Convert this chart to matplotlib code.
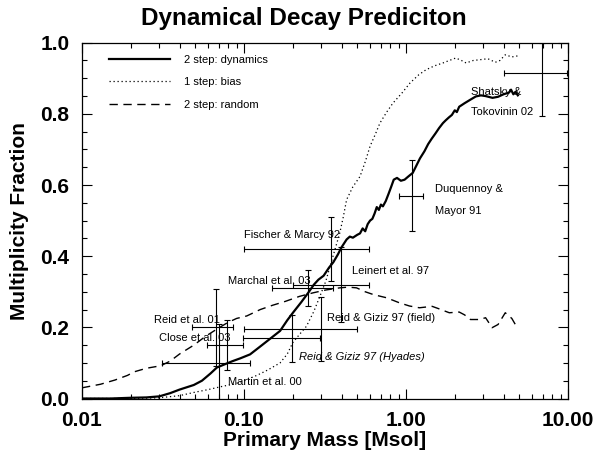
import matplotlib
matplotlib.use("Agg")
import matplotlib.pyplot as plt
from matplotlib.ticker import FixedLocator, FixedFormatter, LogLocator, MultipleLocator, NullFormatter

plt.rcParams['font.family'] = ['Liberation Sans', 'DejaVu Sans']
plt.rcParams['font.weight'] = 'bold'

# ---- data ----
dyn_x = [0.010, 0.015, 0.02, 0.025, 0.030, 0.035, 0.040, 0.049, 0.055, 0.062, 0.068, 0.075, 0.085,
         0.095, 0.109, 0.125, 0.145, 0.167, 0.185, 0.202, 0.225, 0.249, 0.27, 0.288, 0.31, 0.335,
         0.356, 0.38, 0.40, 0.43, 0.45, 0.47, 0.50, 0.52, 0.54, 0.56, 0.58, 0.60, 0.62, 0.64, 0.66,
         0.68, 0.70, 0.72, 0.75, 0.78, 0.81, 0.84, 0.88, 0.93, 0.98, 1.04, 1.10, 1.16, 1.22, 1.30,
         1.37, 1.44, 1.52, 1.60, 1.69, 1.76, 1.84, 1.92, 2.0, 2.06, 2.13, 2.3, 2.5, 2.7, 2.9, 3.1,
         3.42, 3.7, 4.0, 4.33, 4.45, 4.6, 4.75, 4.9]
dyn_y = [0.0, 0.0, 0.002, 0.003, 0.006, 0.015, 0.025, 0.038, 0.05, 0.07, 0.087, 0.095, 0.105,
         0.113, 0.124, 0.145, 0.168, 0.19, 0.22, 0.243, 0.27, 0.297, 0.32, 0.334, 0.345, 0.368,
         0.383, 0.405, 0.425, 0.447, 0.455, 0.452, 0.46, 0.464, 0.478, 0.47, 0.49, 0.50, 0.505, 0.52, 0.538,
         0.53, 0.545, 0.54, 0.555, 0.575, 0.595, 0.615, 0.62, 0.612, 0.615, 0.625, 0.634, 0.655, 0.675, 0.695,
         0.715, 0.73, 0.745, 0.76, 0.774, 0.782, 0.79, 0.797, 0.81, 0.805, 0.82, 0.83, 0.84, 0.849, 0.852, 0.85,
         0.845, 0.848, 0.855, 0.86, 0.868, 0.855, 0.862, 0.852]

bias_x = [0.01, 0.02, 0.03, 0.04, 0.049, 0.06, 0.075, 0.086, 0.099, 0.12, 0.14, 0.167, 0.185, 0.2,
          0.22, 0.243, 0.27, 0.294, 0.32, 0.34, 0.365, 0.39, 0.41, 0.43, 0.47, 0.52, 0.56, 0.6, 0.65,
          0.69, 0.76, 0.83, 0.95, 1.06, 1.2, 1.33, 1.5, 1.69, 1.85, 2.03, 2.2, 2.35, 2.6, 2.84, 3.2,
          3.56, 3.8, 4.1, 4.5, 4.9]
bias_y = [0.0, 0.0, 0.002, 0.008, 0.017, 0.025, 0.035, 0.04, 0.049, 0.065, 0.08, 0.10, 0.125, 0.157,
          0.18, 0.203, 0.245, 0.287, 0.33, 0.372, 0.42, 0.465, 0.51, 0.559, 0.595, 0.624, 0.665, 0.709, 0.745,
          0.774, 0.805, 0.83, 0.86, 0.887, 0.91, 0.924, 0.935, 0.943, 0.95, 0.957, 0.95, 0.943, 0.95, 0.952, 0.955,
          0.945, 0.95, 0.966, 0.96, 0.963]

rand_x = [0.01, 0.013, 0.016, 0.0191, 0.021, 0.025, 0.0306, 0.035, 0.04, 0.049, 0.058, 0.068, 0.079,
          0.09, 0.104, 0.126, 0.15, 0.18, 0.22, 0.267, 0.32, 0.39, 0.44, 0.495, 0.56, 0.63, 0.76, 0.91,
          1.05, 1.21, 1.45, 1.6, 1.85, 2.13, 2.3, 2.5, 2.84, 3.1, 3.4, 3.7, 4.1, 4.5, 4.8]
rand_y = [0.03, 0.04, 0.052, 0.065, 0.075, 0.085, 0.092, 0.105, 0.125, 0.15, 0.175, 0.195, 0.213,
          0.225, 0.232, 0.25, 0.262, 0.273, 0.287, 0.297, 0.305, 0.311, 0.313, 0.311, 0.30, 0.292, 0.283, 0.269,
          0.26, 0.255, 0.259, 0.252, 0.241, 0.243, 0.235, 0.222, 0.222, 0.227, 0.199, 0.208, 0.241, 0.225, 0.203]

# observations: x, xerr, y, yerr_low, yerr_high
obs_names = ["Fischer & Marcy 92", "Marchal et al. 03", "Leinert et al. 97", "Reid et al. 01",
             "Close et al. 03", "Reid & Giziz 97 (field)", "Reid & Giziz 97 (Hyades)",
             "Martin et al. 00", "Duquennoy & Mayor 91", "Shatsky & Tokovinin 02"]
obs_x = [0.345, 0.25, 0.395, 0.067, 0.079, 0.30, 0.197, 0.07, 1.09, 6.95]
obs_xerr = [0.245, 0.102, 0.195, 0.019, 0.02, 0.20, 0.098, 0.039, 0.19, 2.95]
obs_y = [0.42, 0.31, 0.32, 0.20, 0.15, 0.195, 0.169, 0.10, 0.57, 0.915]
obs_yerr_lo = [0.09, 0.05, 0.105, 0.108, 0.07, 0.09, 0.066, 0.11, 0.10, 0.12]
obs_yerr_hi = [0.09, 0.05, 0.105, 0.108, 0.07, 0.09, 0.066, 0.11, 0.10, 0.085]

# labels: text, x, y, italic
lab_text = ["Fischer & Marcy 92", "Marchal et al. 03", "Leinert et al. 97", "Reid et al. 01",
            "Close et al. 03", "Reid & Giziz 97 (field)", "Reid & Giziz 97 (Hyades)",
            "Martin et al. 00", "Duquennoy &", "Mayor 91", "Shatsky &", "Tokovinin 02"]
lab_x = [0.1, 0.0794, 0.462, 0.0278, 0.0297, 0.324, 0.219, 0.0794, 1.51, 1.51, 2.52, 2.52]
lab_y = [0.46, 0.33, 0.358, 0.221, 0.169, 0.227, 0.117, 0.047, 0.589, 0.527, 0.862, 0.804]
lab_italic = [False, False, False, False, False, False, True, False, False, False, False, False]

xticks = [0.01, 0.1, 1.0, 10.0]
xticklabels = ["0.01", "0.10", "1.00", "10.00"]
yticks = [0.0, 0.2, 0.4, 0.6, 0.8, 1.0]
yticklabels = ["0.0", "0.2", "0.4", "0.6", "0.8", "1.0"]

# ---- figure ----
fig = plt.figure(figsize=(5.97, 4.55), dpi=100)
ax = fig.add_axes([82/597, 1 - 398.5/455, 486/597, 355.8/455])

ax.plot(dyn_x, dyn_y, color='black', lw=1.6, ls='-', label='2 step: dynamics')
ax.plot(bias_x, bias_y, color='black', lw=0.9, ls=(0, (1, 2.2)), label='1 step: bias')
ax.plot(rand_x, rand_y, color='black', lw=1.0, ls=(0, (6, 4)), label='2 step: random')

ax.errorbar(obs_x, obs_y, xerr=obs_xerr, yerr=[obs_yerr_lo, obs_yerr_hi], fmt='none',
            ecolor='black', elinewidth=0.8, capsize=2.5, capthick=0.8)

for t, x, y, it in zip(lab_text, lab_x, lab_y, lab_italic):
    ax.text(x, y, t, fontsize=8, fontweight='normal', ha='left', va='center',
            style='italic' if it else 'normal')

ax.set_xscale('log')
ax.set_xlim(0.01, 10)
ax.set_ylim(0, 1)
ax.xaxis.set_major_locator(FixedLocator(xticks))
ax.xaxis.set_major_formatter(FixedFormatter(xticklabels))
ax.xaxis.set_minor_locator(LogLocator(base=10, subs=range(2, 10)))
ax.xaxis.set_minor_formatter(NullFormatter())
ax.yaxis.set_major_locator(FixedLocator(yticks))
ax.yaxis.set_major_formatter(FixedFormatter(yticklabels))
ax.yaxis.set_minor_locator(MultipleLocator(0.05))

ax.tick_params(which='both', direction='in', top=True, right=True, width=0.8)
ax.tick_params(which='major', length=7, labelsize=15, pad=9)
ax.tick_params(which='minor', length=3.5)
for s in ax.spines.values():
    s.set_linewidth(0.9)

ax.set_xlabel('Primary Mass [Msol]', fontsize=15, fontweight='bold', labelpad=1)
ax.set_ylabel('Multiplicity Fraction', fontsize=15, fontweight='bold', labelpad=8)
fig.text(304/597, 1 - 18/455, 'Dynamical Decay Prediciton', fontsize=17.5, fontweight='bold',
         ha='center', va='center')

leg = ax.legend(loc='upper left', bbox_to_anchor=(0.055, 0.965), frameon=False,
                prop={'size': 8, 'weight': 'normal'},
                handlelength=5.5, handletextpad=1.3, labelspacing=1.1, borderpad=0, borderaxespad=0)

fig.savefig('out.png', dpi=100)
